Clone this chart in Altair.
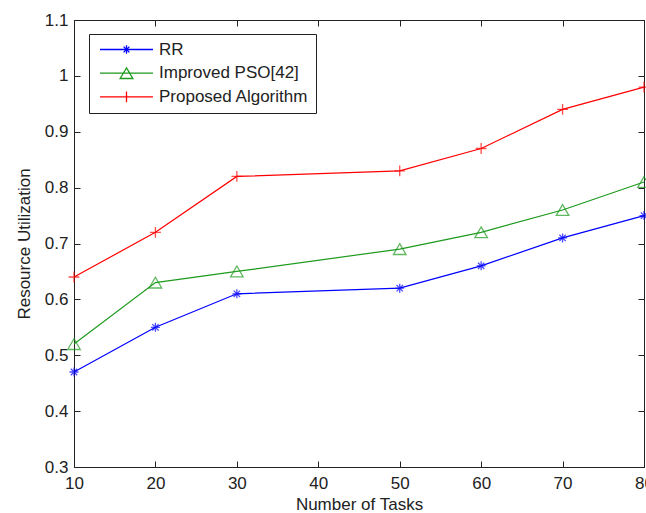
import altair as alt
import pandas as pd

# Resource utilization per number of tasks
tasks = [10, 20, 30, 50, 60, 70, 80]
rr = [0.47, 0.55, 0.61, 0.62, 0.66, 0.71, 0.75]
improved_pso = [0.52, 0.63, 0.65, 0.69, 0.72, 0.76, 0.81]
proposed = [0.64, 0.72, 0.82, 0.83, 0.87, 0.94, 0.98]

series_names = ["RR", "Improved PSO[42]", "Proposed Algorithm"]
series_colors = ["#0000ff", "#1e9a1e", "#ff0000"]

x_ticks = [10, 20, 30, 40, 50, 60, 70, 80]
y_ticks = [0.3, 0.4, 0.5, 0.6, 0.7, 0.8, 0.9, 1.0, 1.1]

# marker outlines drawn on the data points (SVG paths in symbol units)
STAR = "M-0.75,0L0.75,0M0,-0.75L0,0.75M-0.53,-0.53L0.53,0.53M-0.53,0.53L0.53,-0.53"
TRIANGLE = "M0,-0.9L1.05,0.9L-1.05,0.9Z"
CROSS = "M-0.9,0L0.9,0M0,-0.9L0,0.9"
markers = [STAR, TRIANGLE, CROSS]

# legend swatches: a line segment with the marker in its middle
LEGEND_STAR = "M-1,0L1,0M-0.16,0L0.16,0M0,-0.16L0,0.16M-0.11,-0.11L0.11,0.11M-0.11,0.11L0.11,-0.11"
LEGEND_TRIANGLE = "M-1,0L1,0M0,-0.2L0.24,0.2L-0.24,0.2Z"
LEGEND_CROSS = "M-1,0L1,0M0,-0.2L0,0.2"
legend_shapes = [LEGEND_STAR, LEGEND_TRIANGLE, LEGEND_CROSS]

FONT = "Liberation Sans"
INK = "#222222"
TICK = 6

rows = []
for name, values in zip(series_names, [rr, improved_pso, proposed]):
    for t, v in zip(tasks, values):
        rows.append({"series": name, "tasks": t, "value": v})
df = pd.DataFrame(rows)

x_scale = alt.Scale(domain=[10, 80], nice=False, zero=False)
y_scale = alt.Scale(domain=[0.3, 1.1], nice=False, zero=False)

base = alt.Chart(df)

x_main = alt.X(
    "tasks:Q",
    scale=x_scale,
    axis=alt.Axis(
        orient="bottom", values=x_ticks, title="Number of Tasks",
        offset=-TICK, tickSize=TICK, domain=False, grid=False,
        labelFlush=False, labelPadding=8, titlePadding=5,
    ),
)
y_main = alt.Y(
    "value:Q",
    scale=y_scale,
    axis=alt.Axis(
        orient="left", values=y_ticks, format=".1~f", title="Resource Utilization",
        offset=-TICK, tickSize=TICK, domain=False, grid=False,
        labelFlush=False, labelPadding=6, titlePadding=11,
    ),
)
x_plain = alt.X("tasks:Q", scale=x_scale, axis=None)
y_plain = alt.Y("value:Q", scale=y_scale, axis=None)

layers = []
for i, (name, color, m) in enumerate(zip(series_names, series_colors, markers)):
    subset = base.transform_filter(alt.datum.series == name)
    line = subset.mark_line(color=color, strokeWidth=1.2).encode(
        x=x_main if i == 0 else x_plain,
        y=y_main if i == 0 else y_plain,
    )
    pts = subset.mark_point(
        shape=m, filled=False, size=144, strokeWidth=1.3, color=color
    ).encode(x=x_plain, y=y_plain)
    layers += [line, pts]

legend_def = alt.Legend(
    title=None, orient="none", legendX=15, legendY=14, direction="vertical",
    strokeColor=INK, fillColor="white", padding=7, cornerRadius=0,
    symbolSize=2809, symbolStrokeWidth=1.3, clipHeight=17, rowPadding=5.7,
    symbolOffset=3, labelOffset=5, labelLimit=400,
    labelFont=FONT, labelFontSize=17, labelColor=INK,
)

# invisible layer carrying the legend plus the top/right tick marks
legend_layer = base.mark_point(opacity=0, filled=False).encode(
    x=alt.X(
        "tasks:Q",
        scale=x_scale,
        axis=alt.Axis(
            orient="top", values=x_ticks, labels=False, title=None,
            offset=-TICK, tickSize=TICK, domain=False, grid=False,
        ),
    ),
    y=alt.Y(
        "value:Q",
        scale=y_scale,
        axis=alt.Axis(
            orient="right", values=y_ticks, labels=False, title=None,
            offset=-TICK, tickSize=TICK, domain=False, grid=False,
        ),
    ),
    color=alt.Color(
        "series:N",
        scale=alt.Scale(domain=series_names, range=series_colors),
        legend=legend_def,
    ),
    shape=alt.Shape(
        "series:N",
        scale=alt.Scale(domain=series_names, range=legend_shapes),
        legend=legend_def,
    ),
)

chart = (
    alt.layer(*layers, legend_layer)
    .resolve_axis(x="independent", y="independent")
    .properties(
        width=570,
        height=447,
        padding={"left": 74, "top": 20, "right": 2, "bottom": 46},
        autosize=alt.AutoSizeParams(type="none"),
        background="white",
    )
    .configure_view(stroke=INK, strokeWidth=1)
    .configure_axis(
        labelFont=FONT, labelFontSize=17, labelColor=INK,
        titleFont=FONT, titleFontSize=17, titleFontWeight="normal", titleColor=INK,
        tickColor=INK, tickWidth=1,
    )
)

chart.save("out.html", embed_options={"renderer": "svg", "actions": False})
